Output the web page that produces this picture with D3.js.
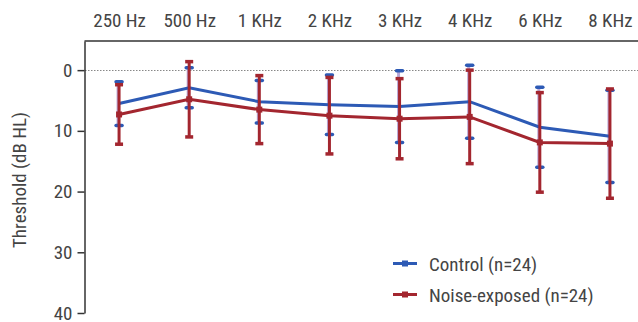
<!DOCTYPE html>
<html>
<head>
<meta charset="utf-8">
<script src="https://cdn.jsdelivr.net/npm/d3@7"></script>
<style>
  body { margin: 0; background: #fff; }
  text { font-family: "Liberation Sans Narrow", "Roboto Condensed", Roboto, sans-serif; fill: #444; }
</style>
</head>
<body>
<div id="chart"></div>
<script>
var freqs = ["250 Hz", "500 Hz", "1 KHz", "2 KHz", "3 KHz", "4 KHz", "6 KHz", "8 KHz"];
var controlMean = [5.5, 2.9, 5.2, 5.7, 6.0, 5.2, 9.4, 10.9];
var controlSd = [3.6, 3.3, 3.5, 4.9, 5.9, 6.0, 6.6, 7.6];
var noiseMean = [7.3, 4.8, 6.5, 7.5, 8.0, 7.7, 11.9, 12.1];
var noiseSd = [4.9, 6.2, 5.6, 6.3, 6.6, 7.7, 8.2, 9.0];
var yTicks = [0, 10, 20, 30, 40];
var legendLabels = ["Control (n=24)", "Noise-exposed (n=24)"];

var width = 638, height = 322;
var blue = "#2d5ab5", red = "#a3262f", lavender = "#b9a7d6";

var svg = d3.select("#chart").append("svg")
    .attr("width", width)
    .attr("height", height);

var x = d3.scalePoint().domain(freqs).range([84, 645]).padding(0.5);
var y = d3.scaleLinear().domain([-4.8, 40]).range([41, 313]);

// zero reference line
svg.append("line")
    .attr("x1", 85).attr("x2", width)
    .attr("y1", Math.round(y(0)) + 0.5).attr("y2", Math.round(y(0)) + 0.5)
    .attr("stroke", "#888")
    .attr("stroke-width", 1)
    .attr("stroke-dasharray", "1.5,1.5");

// y axis
var yAxis = svg.append("g")
    .attr("transform", "translate(84.5,0)")
    .call(d3.axisLeft(y).tickValues(yTicks).tickSize(7).tickSizeOuter(0).tickPadding(5));
yAxis.select(".domain").attr("stroke", "#333").attr("stroke-width", 1.5);
yAxis.selectAll(".tick line").attr("stroke", "#333").attr("stroke-width", 1.5);
yAxis.selectAll("text").attr("font-size", 19).attr("fill", "#444").attr("font-family", null);

// top axis with frequency labels
var xAxis = svg.append("g")
    .attr("transform", "translate(0,40.5)")
    .call(d3.axisTop(x).tickSize(0).tickPadding(14));
xAxis.select(".domain").attr("stroke", "#333").attr("stroke-width", 1.5);
xAxis.selectAll("text").attr("font-size", 19).attr("fill", "#444").attr("font-family", null);

svg.append("text")
    .attr("transform", "translate(26," + 180 + ") rotate(-90)")
    .attr("text-anchor", "middle")
    .attr("font-size", 19)
    .text("Threshold (dB HL)");

var line = d3.line()
    .x(function (d, i) { return x(freqs[i]); })
    .y(function (d) { return y(d); });

// control error bar stems (light)
svg.selectAll(".cstem").data(controlMean).enter().append("line")
    .attr("x1", function (d, i) { return x(freqs[i]) - 1; })
    .attr("x2", function (d, i) { return x(freqs[i]) - 1; })
    .attr("y1", function (d, i) { return y(d - controlSd[i]); })
    .attr("y2", function (d, i) { return y(d + controlSd[i]); })
    .attr("stroke", lavender).attr("stroke-width", 3);

// control line
svg.append("path").datum(controlMean)
    .attr("d", line)
    .attr("fill", "none")
    .attr("stroke", blue)
    .attr("stroke-width", 3);

// control caps
[-1, 1].forEach(function (s) {
    svg.selectAll(".ccap" + s).data(controlMean).enter().append("line")
        .attr("x1", function (d, i) { return x(freqs[i]) - 3; })
        .attr("x2", function (d, i) { return x(freqs[i]) + 3; })
        .attr("y1", function (d, i) { return y(d + s * controlSd[i]); })
        .attr("y2", function (d, i) { return y(d + s * controlSd[i]); })
        .attr("stroke", blue).attr("stroke-width", 3.5).attr("stroke-linecap", "round");
});

// noise error bars
svg.selectAll(".nstem").data(noiseMean).enter().append("line")
    .attr("x1", function (d, i) { return x(freqs[i]); })
    .attr("x2", function (d, i) { return x(freqs[i]); })
    .attr("y1", function (d, i) { return y(d - noiseSd[i]); })
    .attr("y2", function (d, i) { return y(d + noiseSd[i]); })
    .attr("stroke", red).attr("stroke-width", 3);

[-1, 1].forEach(function (s) {
    svg.selectAll(".ncap" + s).data(noiseMean).enter().append("line")
        .attr("x1", function (d, i) { return x(freqs[i]) - 4; })
        .attr("x2", function (d, i) { return x(freqs[i]) + 4; })
        .attr("y1", function (d, i) { return y(d + s * noiseSd[i]); })
        .attr("y2", function (d, i) { return y(d + s * noiseSd[i]); })
        .attr("stroke", red).attr("stroke-width", 3.5);
});

// noise line
svg.append("path").datum(noiseMean)
    .attr("d", line)
    .attr("fill", "none")
    .attr("stroke", red)
    .attr("stroke-width", 3);

svg.selectAll(".nmark").data(noiseMean).enter().append("rect")
    .attr("x", function (d, i) { return x(freqs[i]) - 3; })
    .attr("y", function (d) { return y(d) - 3; })
    .attr("width", 6).attr("height", 6)
    .attr("fill", red);

// legend
var legend = svg.selectAll(".legend").data(legendLabels).enter().append("g")
    .attr("transform", function (d, i) { return "translate(393," + (263.5 + i * 31) + ")"; });
legend.append("line")
    .attr("x1", 0).attr("x2", 24)
    .attr("stroke", function (d, i) { return i === 0 ? blue : red; })
    .attr("stroke-width", 3);
legend.append("rect")
    .attr("x", 9).attr("y", -3).attr("width", 6).attr("height", 6)
    .attr("fill", function (d, i) { return i === 0 ? blue : red; });
legend.append("text")
    .attr("x", 36).attr("y", 7)
    .attr("font-size", 19)
    .text(function (d) { return d; });
</script>
</body>
</html>
